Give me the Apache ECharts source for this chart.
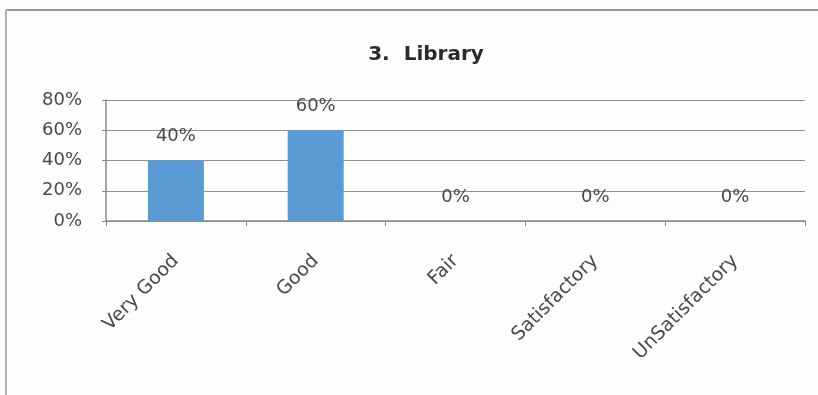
<!DOCTYPE html>
<html>
<head>
<meta charset="utf-8">
<script src="https://cdn.jsdelivr.net/npm/echarts@6/dist/echarts.min.js"></script>
<style>
  html, body { margin: 0; padding: 0; background: #fff; }
  #chart { width: 818px; height: 395px; }
</style>
</head>
<body>
<div id="chart"></div>
<script>
// categories and values
var categories = ["Very Good", "Good", "Fair", "Satisfactory", "UnSatisfactory"];
var values = [40, 60, 0, 0, 0];
var yTicks = [0, 20, 40, 60, 80];

var chart = echarts.init(document.getElementById("chart"));

// wide font, the scan looks stretched sideways
var font = "'DejaVu Sans', 'Open Sans', sans-serif";

var option = {
	backgroundColor: "#fdfdfd",
	animation: false,
	title: {
		text: "3.  Library",
		left: 421,
		top: 40,
		textAlign: "center",
		textStyle: { fontFamily: font, fontSize: 20, fontWeight: "bold", color: "#2a2a2a" }
	},
	// the page frame around the chart
	graphic: [
		{ type: "line", shape: { x1: 6, y1: 10, x2: 818, y2: 10 }, style: { stroke: "#9a9a9a", lineWidth: 2 } },
		{ type: "line", shape: { x1: 6, y1: 10, x2: 6, y2: 395 }, style: { stroke: "#b0b0b0", lineWidth: 2 } }
	],
	grid: { left: 106, right: 13, top: 100, bottom: 174 },
	xAxis: {
		type: "category",
		data: categories,
		axisLine: { lineStyle: { color: "#8a8a8a", width: 1.5 } },
		axisTick: { show: true, length: 5, lineStyle: { color: "#8a8a8a" } },
		axisLabel: { rotate: 45, margin: 37, fontFamily: font, fontSize: 19, color: "#4a4a4a" }
	},
	yAxis: {
		type: "value",
		min: yTicks[0],
		max: yTicks[yTicks.length - 1],
		interval: 20,
		axisLine: { show: true, lineStyle: { color: "#8a8a8a", width: 1.5 } },
		axisTick: { show: true, length: 4, lineStyle: { color: "#8a8a8a" } },
		axisLabel: { formatter: "{value}%", margin: 24, fontFamily: font, fontSize: 18, color: "#4a4a4a" },
		splitLine: { lineStyle: { color: "#8f8f8f", width: 1.2 } }
	},
	series: [{
		type: "bar",
		data: values,
		barWidth: 56,
		itemStyle: { color: "#5b9bd5" },
		label: {
			show: true,
			position: "top",
			distance: 15,
			formatter: "{c}%",
			fontFamily: font,
			fontSize: 18,
			color: "#4a4a4a"
		}
	}]
};

chart.setOption(option);
</script>
</body>
</html>
